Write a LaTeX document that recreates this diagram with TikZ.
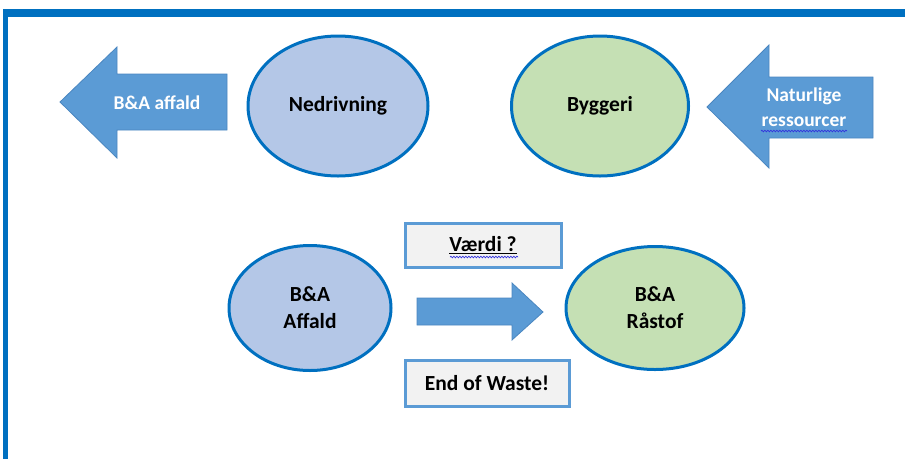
\documentclass[tikz,border=0pt]{standalone}
\usepackage{fontspec}
\setmainfont{Carlito}
\usetikzlibrary{shapes.geometric,decorations.pathmorphing}
\definecolor{frameblue}{HTML}{0070C0}
\definecolor{arrowblue}{HTML}{5B9BD5}
\definecolor{arrowedge}{HTML}{4A86C0}
\definecolor{lightblue}{HTML}{B4C7E7}
\definecolor{lightgreen}{HTML}{C5E0B4}
\definecolor{boxgray}{HTML}{F2F2F2}
\definecolor{spellblue}{HTML}{3333DD}
\tikzset{
  oval/.style={ellipse, draw=frameblue, line width=3pt, font=\bfseries\fontsize{21.5}{27}\selectfont, align=center, inner sep=0pt},
  blueoval/.style={oval, fill=lightblue},
  greenoval/.style={oval, fill=lightgreen},
  bigarrow/.style={fill=arrowblue, draw=arrowedge, line width=0.8pt},
  arrowtext/.style={text=white, font=\bfseries\fontsize{19.5}{25}\selectfont, align=center},
  labelbox/.style={draw=arrowblue, fill=boxgray, line width=3pt, font=\bfseries\fontsize{21.5}{25}\selectfont, minimum width=156pt, minimum height=44pt, inner sep=0pt},
  spell/.style={spellblue, line width=0.7pt, decorate, decoration={snake, amplitude=0.8pt, segment length=3pt}}
}
\begin{document}
\begin{tikzpicture}[x=1pt,y=-1pt]
\useasboundingbox (0,0) rectangle (905,459);
% frame
\fill[frameblue] (3,9) rectangle (905,17);
\fill[frameblue] (3,9) rectangle (8,459);
% left big arrow
\draw[bigarrow] (60,102) -- (117,47) -- (117,74) -- (227,74) -- (227,130) -- (117,130) -- (117,158) -- cycle;
\node[arrowtext] (wasteLbl) at (157,103) {B\&A affald};
% right big arrow
\draw[bigarrow] (707,107) -- (769,45) -- (769,77) -- (873,77) -- (873,138) -- (769,138) -- (769,168) -- cycle;
\node[arrowtext] (natLbl) at (804,107) {Naturlige\\ressourcer};
\coordinate (s1a) at (761,131);
\coordinate (s1b) at (847,131);
\draw[spell] (s1a) -- (s1b);
% top ellipses
\node[blueoval, minimum width=180pt, minimum height=140pt] (nedriv) at (338,106) {Nedrivning};
\node[greenoval, minimum width=177pt, minimum height=140pt] (bygg) at (600,106) {Byggeri};
% bottom ellipses
\node[blueoval, minimum width=162pt, minimum height=125pt] (affald) at (310,308) {B\&A\\Affald};
\node[greenoval, minimum width=178pt, minimum height=123pt] (raastof) at (655,308) {B\&A\\Råstof};
% middle arrow
\draw[bigarrow] (417,298) -- (512,298) -- (512,283) -- (543,312) -- (512,340) -- (512,325) -- (417,325) -- cycle;
% boxes
\node[labelbox] (vaerdi) at (483,245) {\underline{Værdi ?}};
\coordinate (s2a) at (450,257);
\coordinate (s2b) at (518,257);
\draw[spell] (s2a) -- (s2b);
\node[labelbox, minimum width=164pt, minimum height=46pt] (eow) at (487,383) {End of Waste!};
\end{tikzpicture}
\end{document}
